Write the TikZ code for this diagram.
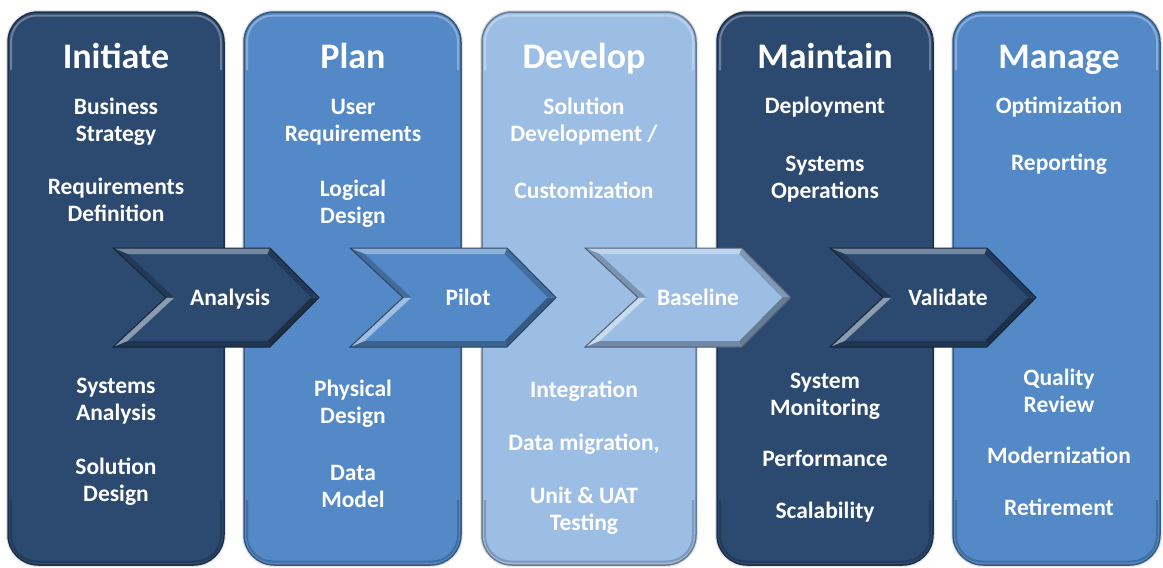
\documentclass[tikz,border=0pt]{standalone}
\usepackage{fontspec}
\setmainfont{Carlito}
\usetikzlibrary{calc}
\definecolor{navy}{RGB}{44,74,112}
\definecolor{midblue}{RGB}{83,137,199}
\definecolor{lightblue}{RGB}{157,190,228}
\begin{document}
\begin{tikzpicture}[x=1pt,y=-1pt,
  title/.style={text=white,inner sep=0pt,text height=23,text depth=0,font=\bfseries\fontsize{36}{42}\selectfont},
  item/.style={text=white,align=center,inner sep=0pt,text height=15.5,text depth=4.5,font=\bfseries\fontsize{23.5}{27.5}\selectfont},
  chevtext/.style={item}]
\useasboundingbox (0,0) rectangle (1163,568);
\fill[white] (0,0) rectangle (1163,568);
% columns
\foreach \xa/\xb/\c in {8/224/navy, 244/461/midblue, 482/696/lightblue, 717/933/navy, 953/1160/midblue}{
  \fill[black!10, rounded corners=32] (\xa-2,10) rectangle (\xb+2,567);
  \path[fill=\c, draw=\c!65!black, line width=1.5, rounded corners=30] (\xa,12) rectangle (\xb,565);
  \draw[\c!70!white, line width=2, rounded corners=26] (\xa+3,70) -- (\xa+3,15.5) -- (\xb-3,15.5) -- (\xb-3,70);
  \draw[\c!80!black, line width=2, rounded corners=26] (\xa+3,500) -- (\xa+3,561.5) -- (\xb-3,561.5) -- (\xb-3,500);
}
% chevrons
\foreach \xo/\c in {113/navy, 350/midblue, 585/lightblue, 830/navy}{
  \begin{scope}[shift={(\xo,248)}]
    \coordinate (O1) at (0,0);
    \coordinate (O2) at (157,0);
    \coordinate (O3) at (206,49.5);
    \coordinate (O4) at (157,99);
    \coordinate (O5) at (0,99);
    \coordinate (O6) at (53,49.5);
    \coordinate (I1) at (14.5,6);
    \coordinate (I2) at (154.5,6);
    \coordinate (I3) at (197.5,49.5);
    \coordinate (I4) at (154.5,93);
    \coordinate (I5) at (14.5,93);
    \coordinate (I6) at (61.5,49.5);
    \fill[\c] (I1)--(I2)--(I3)--(I4)--(I5)--(I6)--cycle;
    \fill[\c!65!white] (O1)--(O2)--(I2)--(I1)--cycle;
    \fill[\c!80!black] (O2)--(O3)--(I3)--(I2)--cycle;
    \fill[\c!65!black] (O3)--(O4)--(I4)--(I3)--cycle;
    \fill[\c!72!black] (O4)--(O5)--(I5)--(I4)--cycle;
    \fill[\c!55!white] (O5)--(O6)--(I6)--(I5)--cycle;
    \fill[\c!78!black] (O6)--(O1)--(I1)--(I6)--cycle;
    \draw[\c!50!black, line width=1] (O1)--(O2)--(O3)--(O4)--(O5)--(O6)--cycle;
  \end{scope}
}
% titles
\node[title] (tIni) at (116,57) {Initiate};
\node[title] (tPla) at (353,57) {Plan};
\node[title] (tDev) at (584,57) {Develop};
\node[title] (tMai) at (825,57) {Maintain};
\node[title] (tMan) at (1059,57) {Manage};
% Initiate (multi-line nodes are placed by their last line)
\node[item] (i1) at (116,136) {Business\\Strategy};
\node[item] (i2) at (116,216) {Requirements\\Definition};
\node[item] (i3) at (116,415) {Systems\\Analysis};
\node[item] (i4) at (116,496) {Solution\\Design};
% Plan
\node[item] (p1) at (353,136) {User\\Requirements};
\node[item] (p2) at (353,218) {Logical\\Design};
\node[item] (p3) at (353,418) {Physical\\Design};
\node[item] (p4) at (353,502) {Data\\Model};
% Develop
\node[item] (d1) at (584,136) {Solution\\Development /};
\node[item] (d2) at (584,193) {Customization};
\node[item] (d3) at (584,392) {Integration};
\node[item] (d4) at (584,445) {Data migration,};
\node[item] (d5) at (584,525) {Unit \& UAT\\Testing};
% Maintain
\node[item] (m1) at (825,108) {Deployment};
\node[item] (m2) at (825,193) {Systems\\Operations};
\node[item] (m3) at (825,410) {System\\Monitoring};
\node[item] (m4) at (825,461) {Performance};
\node[item] (m5) at (825,513) {Scalability};
% Manage
\node[item] (g1) at (1059,108) {Optimization};
\node[item] (g2) at (1059,165) {Reporting};
\node[item] (g3) at (1059,407) {Quality\\Review};
\node[item] (g4) at (1059,458) {Modernization};
\node[item] (g5) at (1059,510) {Retirement};
% chevron labels
\node[chevtext] (cA) at (230,300) {Analysis};
\node[chevtext] (cP) at (468,300) {Pilot};
\node[chevtext] (cB) at (698,300) {Baseline};
\node[chevtext] (cV) at (948,300) {Validate};
\end{tikzpicture}
\end{document}
